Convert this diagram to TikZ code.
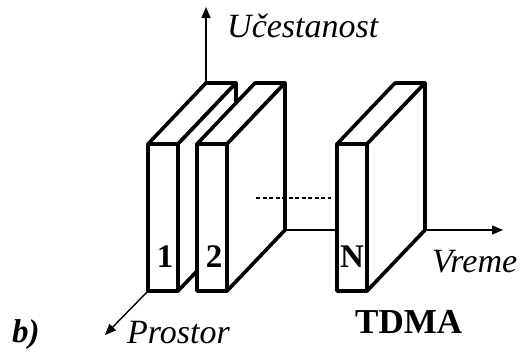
\documentclass[tikz,border=0pt]{standalone}
\usepackage{fontspec}
\setmainfont{Liberation Serif}
\usetikzlibrary{arrows.meta}
\tikzset{
  slabline/.style={draw=black, fill=white, line width=3.6pt, line join=round},
  axisline/.style={line width=1.4pt, -{Triangle[length=11pt,width=9pt]}},
  plainline/.style={line width=1.4pt},
  dashline/.style={line width=1.7pt, dash pattern=on 4pt off 2.5pt},
  axlabel/.style={font=\fontsize{34}{36}\selectfont\itshape, anchor=base west, inner sep=0pt},
  numlabel/.style={font=\fontsize{33}{35}\selectfont\bfseries, anchor=base, inner sep=0pt},
  slab/.pic={
    \draw[slabline] (0,0) -- (58,-61) -- (88,-61) -- (30,0) -- cycle;
    \draw[slabline] (30,0) -- (88,-61) -- (88,86) -- (30,147) -- cycle;
    \draw[slabline] (0,0) rectangle (30,147);
  }
}
\begin{document}
\begin{tikzpicture}[x=1pt, y=-1pt]
\useasboundingbox (0,0) rectangle (524,354);
% named reference points
\coordinate (o1) at (148,144);   % slab 1 front top-left
\coordinate (o2) at (197,144);   % slab 2 front top-left
\coordinate (oN) at (337,144);   % slab N front top-left
\coordinate (fTop) at (206,83);  % origin of frequency axis
\coordinate (fTip) at (206,7);
\coordinate (pStart) at (148,291);
\coordinate (pTip) at (105,335);
\coordinate (tA) at (285,230);
\coordinate (tB) at (337,230);
\coordinate (tC) at (425,230);
\coordinate (tTip) at (503,230);
\coordinate (dA) at (256,198);
\coordinate (dB) at (331,198);

% frequency axis
\draw[axisline] (fTop) -- (fTip);
\node[axlabel] (uc) at (227,37) {Učestanost};

% slabs 1 and 2
\pic at (o1) {slab};
\pic at (o2) {slab};

% time axis (behind slab N)
\draw[plainline] (tA) -- (tB);
\draw[dashline] (dA) -- (dB);

% slab N
\pic at (oN) {slab};
\draw[axisline] (tC) -- (tTip);
\node[axlabel] (vr) at (432,272) {Vreme};

% space axis
\draw[axisline] (pStart) -- (pTip);
\node[axlabel] (pr) at (127,343) {Prostor};

% slab numbers
\node[numlabel] (n1) at (165,267) {1};
\node[numlabel] (n2) at (214,267) {2};
\node[numlabel] (nN) at (352,267) {N};

% captions
\node[font=\fontsize{35}{37}\selectfont\bfseries, anchor=base west, inner sep=0pt] (td) at (355,333) {TDMA};
\node[font=\fontsize{33}{35}\selectfont\bfseries\itshape, anchor=base west, inner sep=0pt] (bl) at (12,342) {b)};
\end{tikzpicture}
\end{document}
